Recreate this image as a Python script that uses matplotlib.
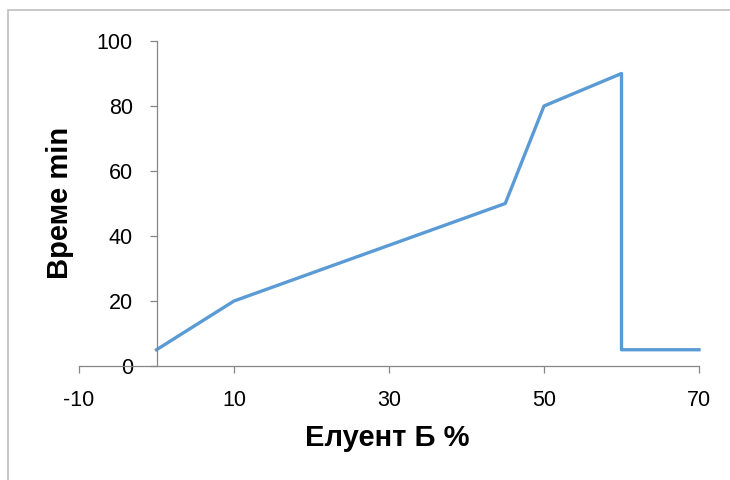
import matplotlib.pyplot as plt
from matplotlib.patches import Rectangle

# eluent B % vs time
eluent_b = [0, 10, 45, 50, 60, 60, 70]
time_min = [5, 20, 50, 80, 90, 5, 5]

x_ticks = [-10, 10, 30, 50, 70]
y_ticks = [0, 20, 40, 60, 80, 100]

plt.rcParams['font.family'] = ['Liberation Sans', 'DejaVu Sans']
plt.rcParams['axes.unicode_minus'] = False

fig = plt.figure(figsize=(7.3, 4.8), dpi=100)
ax = fig.add_axes([79 / 730, 1 - 366 / 480, 620 / 730, 325 / 480])

# chart border
fig.patches.append(Rectangle((8 / 730, -0.1), 1.2, 1 - 10 / 480 + 0.1,
                             transform=fig.transFigure, fill=False,
                             edgecolor='#bfbfbf', linewidth=1.2))

ax.plot(eluent_b, time_min, color='#5b9bd5', linewidth=2.4, clip_on=False)

ax.set_xlim(-10, 70)
ax.set_ylim(0, 100)
ax.set_xticks(x_ticks)
ax.set_yticks(y_ticks)

ax.spines['top'].set_visible(False)
ax.spines['right'].set_visible(False)
ax.spines['left'].set_position(('data', 0))
for s in ['left', 'bottom']:
    ax.spines[s].set_color('#868686')
    ax.spines[s].set_linewidth(0.9)

ax.tick_params(axis='x', direction='out', length=5, width=0.9, color='#868686',
               labelsize=15.5, pad=12)
ax.tick_params(axis='y', direction='out', length=5, width=0.9, color='#868686',
               labelsize=15.5, pad=12)

ax.set_xlabel('Елуент Б %', fontsize=21, fontweight='bold')
ax.set_ylabel('Време min', fontsize=21, fontweight='bold')
ax.xaxis.set_label_coords(387 / 730, 1 - 424 / 480, transform=fig.transFigure)
ax.yaxis.set_label_coords(74 / 730, 1 - 203 / 480, transform=fig.transFigure)

fig.savefig('out.png', dpi=100)
